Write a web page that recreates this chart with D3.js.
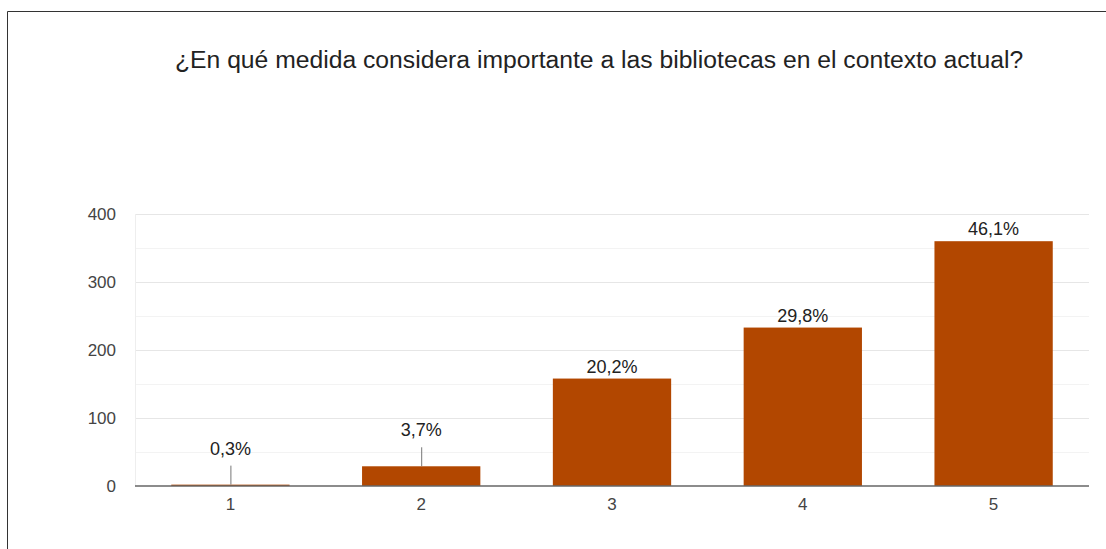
<!DOCTYPE html>
<html><head><meta charset="utf-8">
<script src="https://cdn.jsdelivr.net/npm/d3@7"></script>
<style>body{margin:0;background:#fff}svg{display:block}</style>
</head><body>
<svg id="c" width="1106" height="549"></svg>
<script>
const title = "¿En qué medida considera importante a las bibliotecas en el contexto actual?";
const categories = ["1","2","3","4","5"];
const counts = [2, 29, 158, 233, 360];
const percentLabels = ["0,3%","3,7%","20,2%","29,8%","46,1%"];
const yTicks = [0,100,200,300,400];
const yMinorTicks = [50,150,250,350];

const svg = d3.select("#c");
const font = "'Liberation Sans', Arial, sans-serif";
// frame
svg.append("path").attr("d","M7.5,549 V11.5 H1106").attr("fill","none").attr("stroke","#333").attr("stroke-width",1);

svg.append("text").attr("x",175).attr("y",68).attr("font-family",font).attr("font-size",24.7)
  .attr("fill","#222").text(title);

const m = {l:135, r:1089, t:214, b:486};
const x = d3.scaleBand().domain(categories).range([m.l,m.r]).paddingInner(0.38).paddingOuter(0.19);
const y = d3.scaleLinear().domain([0,400]).range([m.b,m.t]);

const g = svg.append("g");
g.selectAll("line.minor").data(yMinorTicks).join("line").attr("class","minor")
  .attr("x1",m.l).attr("x2",m.r).attr("y1",d=>y(d)+0.5).attr("y2",d=>y(d)+0.5)
  .attr("stroke","#f3f3f3");
g.selectAll("line.major").data(yTicks.filter(d=>d>0)).join("line").attr("class","major")
  .attr("x1",m.l).attr("x2",m.r).attr("y1",d=>y(d)+0.5).attr("y2",d=>y(d)+0.5)
  .attr("stroke","#e6e6e6");
g.append("line").attr("x1",m.l+0.5).attr("x2",m.l+0.5).attr("y1",m.t).attr("y2",m.b).attr("stroke","#eeeeee");

const yAxis = d3.axisLeft(y).tickValues(yTicks).tickSize(0).tickPadding(19);
const ya = svg.append("g").attr("transform",`translate(${m.l},0)`).call(yAxis);
ya.select(".domain").remove();
ya.selectAll("text").attr("font-family",font).attr("font-size",17).attr("fill","#444");

const bars = svg.append("g");
bars.selectAll("rect").data(counts).join("rect")
  .attr("x",(d,i)=>x(categories[i])).attr("width",x.bandwidth())
  .attr("y",d=>y(d)).attr("height",d=>y(0)-y(d))
  .attr("fill","#b24700");

svg.append("line").attr("x1",m.l).attr("x2",m.r).attr("y1",y(0)).attr("y2",y(0)).attr("stroke","#666").attr("stroke-width",1.5);

const xAxis = d3.axisBottom(x).tickSize(0).tickPadding(12);
const xa = svg.append("g").attr("transform",`translate(0,${m.b})`).call(xAxis);
xa.select(".domain").remove();
xa.selectAll("text").attr("font-family",font).attr("font-size",17).attr("fill","#444");

const stemLen = 19;
counts.forEach((d,i)=>{
  const cx = x(categories[i]) + x.bandwidth()/2;
  const top = y(d);
  const small = (y(0)-top) < 30;
  let ty = top - 6;
  if (small) {
    svg.append("line").attr("x1",cx+0.5).attr("x2",cx+0.5).attr("y1",top).attr("y2",top-stemLen)
      .attr("stroke","#777").attr("stroke-width",1);
    ty = top - stemLen - 11;
  }
  svg.append("text").attr("x",cx).attr("y",ty).attr("text-anchor","middle")
    .attr("font-family",font).attr("font-size",18).attr("fill","#222").text(percentLabels[i]);
});
</script>
</body></html>
